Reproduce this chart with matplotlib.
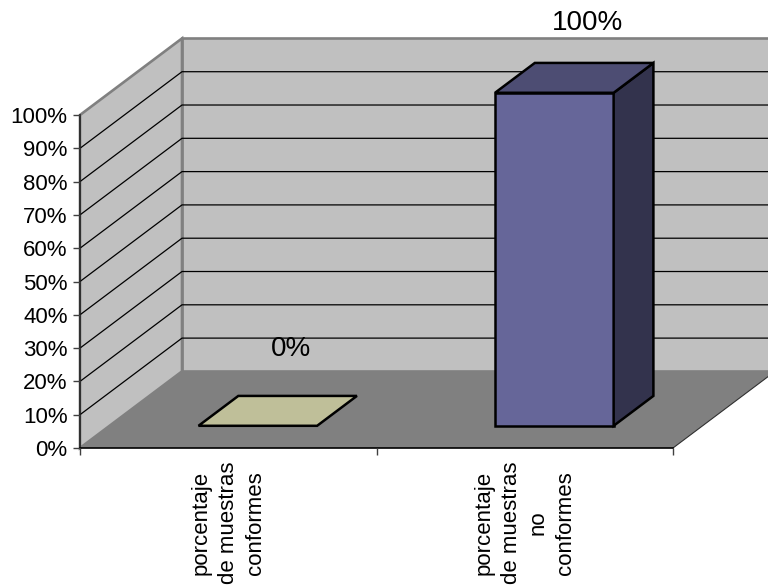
import matplotlib
matplotlib.use("Agg")
import matplotlib.pyplot as plt
from matplotlib.patches import Polygon
from matplotlib.colors import to_rgb

plt.rcParams['font.family'] = ['Liberation Sans', 'DejaVu Sans']

# ---- data ----
categories = ["porcentaje\nde muestras\nconformes",
              "porcentaje\nde muestras\nno\nconformes"]
values = [0, 100]
value_labels = ["0%", "100%"]
bar_colors = ["#FFFFCC", "#666699"]
y_ticks = list(range(0, 101, 10))
y_tick_labels = [f"{v}%" for v in y_ticks]

# ---- oblique 3-D projection settings ----
DX = 0.344      # depth shift in category units
DY = 23.0       # depth shift in percent units
BAR_W = 0.40    # bar width (category units)
D0, D1 = 0.29, 0.68   # bar depth span as fraction of full depth
WALL = "#C0C0C0"
FLOOR = "#808080"
EDGE_GRAY = "#808080"

fig = plt.figure(figsize=(7.68, 5.86), dpi=100)
ax = fig.add_axes([80 / 768, 138 / 586, 593 / 768, 333 / 586])
ax.set_xlim(0, 2)
ax.set_ylim(0, 100)
ax.patch.set_visible(False)
n = len(categories)
ymax = y_ticks[-1]


def shade(c, f):
    r, g, b = to_rgb(c)
    return (r * f, g * f, b * f)


def poly(pts, fc, ec="none", lw=0, z=1):
    p = Polygon(pts, closed=True, facecolor=fc, edgecolor=ec, linewidth=lw,
                zorder=z, clip_on=False, joinstyle="miter")
    ax.add_patch(p)


# walls
poly([(DX, DY), (n + DX, DY), (n + DX, ymax + DY), (DX, ymax + DY)],
     WALL, EDGE_GRAY, 1.9, z=0.5)
poly([(0, 0), (DX, DY), (DX, ymax + DY), (0, ymax)], WALL, EDGE_GRAY, 1.9, z=0.6)
# floor
poly([(0, 0), (n, 0), (n + DX, DY), (DX, DY)], FLOOR, z=0.7)
ax.plot([n, n + DX], [0, DY], color="#303030", lw=0.8, clip_on=False, zorder=0.8)

# gridlines on side and back walls
for v in y_ticks[1:-1]:
    ax.plot([0, DX, n + DX], [v, v + DY, v + DY], color="black", lw=0.9,
            clip_on=False, zorder=0.9)

# bars
for i, (v, c) in enumerate(zip(values, bar_colors)):
    xl = i + 0.5 - BAR_W / 2 + D0 * DX
    xr = xl + BAR_W
    yb = D0 * DY
    ddx = (D1 - D0) * DX
    ddy = (D1 - D0) * DY
    ec = "black"
    lw = 1.8
    if v > 0:
        poly([(xl, yb), (xr, yb), (xr, yb + v), (xl, yb + v)], c, ec, lw, z=2)
        poly([(xr, yb), (xr + ddx, yb + ddy), (xr + ddx, yb + ddy + v), (xr, yb + v)],
             shade(c, 0.5), ec, lw, z=2)
    poly([(xl, yb + v), (xr, yb + v), (xr + ddx, yb + ddy + v), (xl + ddx, yb + ddy + v)],
         shade(c, 0.75), ec, lw, z=2.1)

# value labels
for i, (v, lab) in enumerate(zip(values, value_labels)):
    ax.text(i + 0.5 + 0.21, v + 27.5 - 0.02 * v, lab, ha="center", va="baseline",
            fontsize=20, color="black", zorder=3, clip_on=False)

# axes
for s in ("top", "right"):
    ax.spines[s].set_visible(False)
ax.spines["left"].set_color("#202020")
ax.spines["left"].set_linewidth(1.2)
ax.spines["bottom"].set_color("black")
ax.spines["bottom"].set_linewidth(1.2)
ax.spines["left"].set_zorder(1.5)
ax.spines["bottom"].set_zorder(1.5)

ax.set_yticks(y_ticks, y_tick_labels)
ax.tick_params(axis="y", direction="out", length=5, width=1, color="#404040",
               labelsize=16, pad=4)
ax.set_xticks(range(n + 1), [""] * (n + 1))
ax.tick_params(axis="x", which="major", direction="out", length=5, width=1,
               color="#404040")
ax.set_xticks([i + 0.5 for i in range(n)], categories, minor=True)
ax.tick_params(axis="x", which="minor", length=0, pad=10, labelsize=16)
for t in ax.get_xticklabels(minor=True):
    t.set_rotation(90)
    t.set_ha("center")
    t.set_va("top")
    t.set_multialignment("center")
    t.set_linespacing(1.4)

fig.savefig("out.png", dpi=100)
